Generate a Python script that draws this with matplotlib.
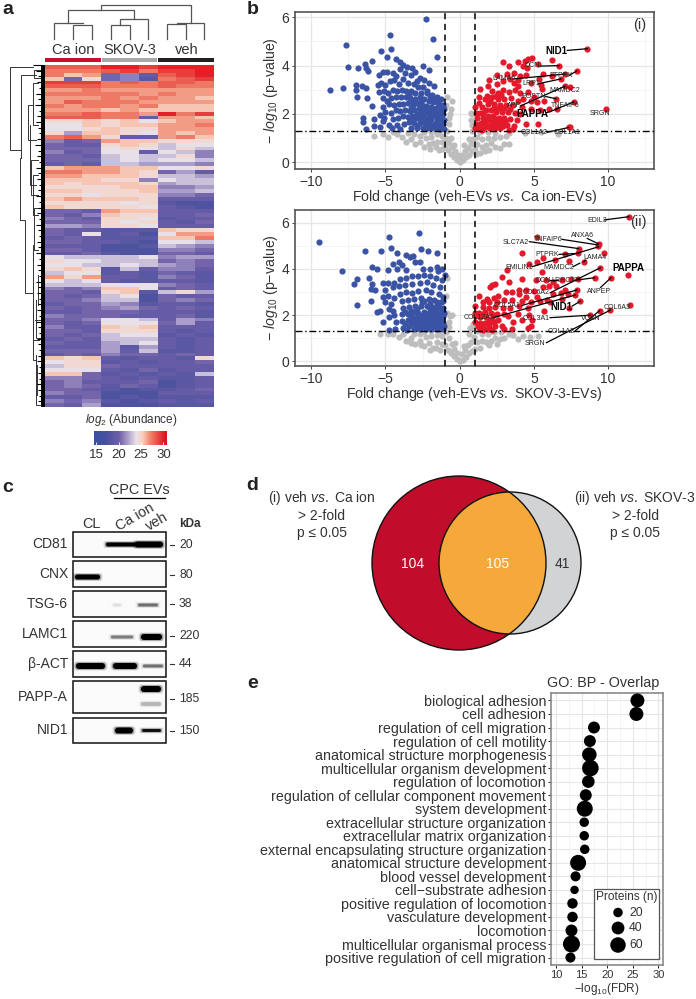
import numpy as np
import matplotlib
matplotlib.use("Agg")
import matplotlib.pyplot as plt
from matplotlib.colors import LinearSegmentedColormap
from matplotlib.patches import Circle, Rectangle, FancyBboxPatch

plt.rcParams['font.family'] = ['Liberation Sans', 'DejaVu Sans']
plt.rcParams['mathtext.fontset'] = 'custom'
plt.rcParams['mathtext.rm'] = 'Liberation Sans'
plt.rcParams['mathtext.it'] = 'Liberation Sans:italic'
plt.rcParams['mathtext.bf'] = 'Liberation Sans:bold'

W, H = 696, 999
TXT = '#333333'

# heatmap, read by eye, one row = 3 Ca ion, 3 SKOV-3, 3 veh
heat = [
 [28,28,28,30,30,29,30,30,30],
 [27,27,27,28,29,27,29,29,30],
 [27,25,26,19,20,18,28,29,30],
 [25,19,24,19,20,17,27,28,29],
 [29,29,29,27,28,27,28,28,27],
 [28,28,28,27,27,27,28,27,27],
 [26,26,27,26,26,26,26,26,26],
 [27,27,27,27,27,26,27,26,26],
 [26,26,26,27,26,27,26,26,25],
 [26,28,27,27,27,26,26,26,26],
 [27,26,27,27,26,27,25,25,25],
 [26,26,26,25,26,25,25,25,25],
 [27,27,28,27,27,26,30,27,29],
 [28,28,28,27,27,18,26,26,25],
 [24,24,25,24,25,23,25,26,26],
 [23,23,25,24,25,25,26,26,27],
 [23,23,24,25,24,24,26,26,26],
 [24,21,25,25,24,23,26,25,26],
 [27,28,26,24,18,18,26,27,25],
 [20,18,19,26,25,25,24,24,24],
 [19,18,18,24,25,24,22,23,23],
 [19,19,19,23,24,23,22,24,22],
 [20,18,19,23,23,18,23,22,20],
 [19,19,18,22,23,22,22,24,20],
 [19,19,19,22,23,22,23,23,22],
 [18,19,18,22,22,21,21,21,20],
 [25,26,26,26,25,25,23,23,24],
 [27,27,26,26,25,24,19,21,18],
 [26,26,25,25,25,24,22,22,21],
 [25,25,25,24,24,20,23,22,22],
 [25,24,25,25,25,24,21,22,22],
 [24,24,24,24,25,25,20,20,21],
 [25,25,24,24,24,25,21,21,22],
 [24,24,23,24,24,24,20,20,19],
 [25,26,25,25,25,24,18,18,18],
 [24,24,24,24,23,24,17,16,16],
 [25,24,24,24,24,23,18,17,16],
 [19,19,18,26,25,25,18,18,18],
 [19,18,20,25,24,24,18,18,19],
 [20,19,18,24,24,23,17,18,18],
 [19,19,19,24,23,24,18,17,19],
 [21,21,20,24,24,23,18,18,18],
 [19,18,18,17,17,17,25,24,24],
 [19,18,23,17,18,16,23,26,26],
 [18,19,18,17,17,17,25,25,27],
 [19,19,18,18,17,16,23,23,22],
 [18,18,18,16,16,17,22,21,20],
 [19,19,18,16,16,16,20,20,19],
 [18,18,19,17,16,16,19,19,18],
 [23,22,22,22,22,23,20,21,21],
 [24,23,23,22,22,22,19,20,19],
 [23,23,22,22,23,22,21,20,19],
 [24,25,24,17,22,18,20,20,18],
 [22,23,23,17,18,17,19,18,17],
 [26,24,26,18,18,17,20,19,17],
 [23,22,23,18,17,17,18,18,17],
 [22,22,22,23,23,23,20,19,18],
 [20,19,20,25,25,23,18,19,18],
 [19,19,18,24,25,17,22,24,21],
 [19,18,19,22,23,16,19,18,18],
 [19,19,20,22,22,16,19,20,19],
 [18,19,19,21,20,17,18,18,17],
 [19,18,19,20,21,19,18,19,18],
 [18,18,19,19,19,18,18,18,17],
 [20,19,19,19,18,18,18,19,17],
 [19,19,20,23,23,22,18,21,20],
 [19,18,19,23,23,23,19,21,18],
 [20,18,18,25,24,25,18,18,18],
 [19,19,18,24,24,24,18,17,18],
 [19,18,19,22,23,23,17,18,17],
 [18,19,18,22,22,22,18,17,18],
 [19,18,18,21,22,23,18,17,18],
 [18,18,18,21,17,21,18,17,18],
 [19,19,19,21,18,22,17,17,18],
 [18,19,18,20,19,19,18,19,18],
 [25,24,25,18,17,18,18,17,24],
 [23,24,24,17,18,17,18,18,19],
 [22,24,24,19,18,18,18,18,18],
 [23,23,23,18,17,19,17,18,18],
 [25,25,19,17,18,17,18,17,22],
 [20,20,19,18,17,18,17,17,18],
 [19,20,18,18,18,19,16,17,18],
 [19,20,19,17,19,18,16,17,18],
 [19,19,18,17,16,17,17,18,19],
 [20,19,19,16,16,16,18,18,18],
 [18,18,19,16,17,16,17,17,17],
 [20,19,20,17,16,17,18,17,18],
 [19,18,21,16,16,16,17,17,17],
]
heat_groups = ['Ca ion', 'SKOV-3', 'veh']
cbar_ticks = [15, 20, 25, 30]

# volcano (i) veh vs Ca ion
blue_i = [(-2.27,5.93),(-4.67,5.27),(-1.82,5.10),(-7.69,4.87),(-5.33,4.62),(-4.65,4.68),(-1.55,4.37),(-4.92,4.34),
 (-5.89,4.2),(-6.36,4.08),(-7.5,3.96),(-6.85,3.9),(-6.29,3.89),(-6.16,3.77),(-2.5,4.0),(-2.09,3.82),(-4.27,4.26),
 (-4.04,4.17),(-3.84,4.03),(-3.55,3.96),(-3.2,3.89),(-8.76,2.97),(-7.89,3.07),(-7.0,3.19),(-6.97,2.98),(-6.92,2.72),
 (-6.58,3.16),(-6.29,3.06),(-6.22,2.68),(-5.93,2.32),(-6.52,1.82),(-6.5,1.68),(-6.29,1.38),(-5.75,1.79),(-5.8,1.5),
 (-5.4,1.45),(-5.15,1.7),(-5.1,1.83),(-4.75,1.55),(-4.55,1.42),(-5.45,3.62),(-5.15,3.72),(-4.9,3.75),(-4.5,3.7),(-4.3,3.55),
 (-4.05,3.85),(-3.7,3.7),(-3.3,3.6),(-3.0,3.75),(-2.7,3.5),(-2.4,3.4),(-2.1,3.3),(-1.75,3.15),(-5.5,3.18),(-5.3,3.3),
 (-5.0,3.2),(-4.7,3.35),(-4.4,3.4),(-4.1,3.25),(-3.85,3.45),(-3.5,3.3),(-3.1,3.25),(-2.8,3.1),(-2.45,3.1),(-5.45,2.9),
 (-5.1,2.95),(-4.85,2.85),(-4.5,3.0),(-4.2,2.95),(-3.9,3.0),(-3.6,2.95),(-3.25,2.95),(-3.0,2.85),(-2.6,2.85),(-2.2,2.85),
 (-1.85,2.8),(-1.5,2.7),(-1.25,2.62),(-5.2,2.65),(-4.9,2.55),(-4.6,2.65),(-4.3,2.7),(-3.95,2.7),(-3.65,2.7),(-3.35,2.65),
 (-3.0,2.6),(-2.7,2.7),(-2.4,2.6),(-2.1,2.55),(-1.8,2.5),(-1.45,2.45),(-1.15,2.35),(-5.2,2.3),(-4.75,2.4),(-4.45,2.35),
 (-4.1,2.42),(-3.8,2.4),(-3.45,2.45),(-3.15,2.35),(-2.85,2.45),(-2.55,2.35),(-2.25,2.32),(-1.95,2.28),(-1.6,2.25),
 (-1.25,2.15),(-5.35,1.95),(-5.0,2.1),(-4.6,2.05),(-4.3,2.15),(-4.0,2.12),(-3.7,2.15),(-3.35,2.12),(-3.05,2.15),(-2.7,2.1),
 (-2.35,2.1),(-2.05,2.05),(-1.75,2.05),(-1.4,2.0),(-1.1,2.0),(-4.5,1.8),(-4.15,1.85),(-3.85,1.9),(-3.5,1.88),(-3.2,1.9),
 (-2.9,1.85),(-2.55,1.87),(-2.2,1.85),(-1.9,1.8),(-1.55,1.82),(-1.2,1.78),(-4.2,1.55),(-3.75,1.6),(-3.4,1.65),(-3.05,1.62),
 (-2.7,1.62),(-2.4,1.65),(-2.05,1.6),(-1.75,1.6),(-1.4,1.6),(-1.1,1.58),(-4.0,1.38),(-3.3,1.4),(-2.85,1.4),(-2.5,1.42),
 (-2.2,1.4),(-1.9,1.4),(-1.6,1.4),(-1.3,1.38),(-1.05,1.38),(-3.4,2.8),(-2.9,3.35),(-2.2,2.95),(-2.5,2.25),(-1.6,2.05),
 (-1.3,1.9),(-2.15,1.72),(-1.55,1.7),(-1.25,1.5),(-1.75,1.5),(-2.3,1.52),(-2.9,1.52),(-1.08,1.75),(-1.08,2.2),
 (-2.0,2.7),(-2.6,2.55),(-3.2,2.5),(-1.65,2.6),(-1.3,2.35),(-2.15,2.2),(-1.85,2.15),(-2.75,2.25),(-3.3,2.25),(-2.45,1.97),
 (-2.9,2.0),(-1.95,1.95),(-1.6,1.93),(-1.2,1.65),(-2.6,1.75),(-3.2,1.75),(-2.0,1.5),(-1.5,1.5)]
red_i = [(8.6,4.7),(6.72,4.0),(7.9,3.78),(7.1,3.65),(6.83,3.45),(7.1,3.15),(7.45,3.13),(6.5,2.63),(7.7,2.5),(6.56,2.2),
 (9.87,2.2),(7.35,1.44),(7.46,1.44),(6.25,4.22),(5.3,4.07),(4.9,4.33),(4.6,4.28),(4.4,4.2),(3.95,4.17),(4.3,4.0),(2.9,4.13),
 (3.3,4.0),(4.55,3.9),(5.6,3.65),(6.2,3.55),(5.35,3.45),(5.5,3.2),(5.55,3.05),(4.8,3.3),(3.2,3.65),(2.55,3.6),(2.0,3.4),
 (3.65,3.7),(4.05,3.55),(4.5,3.6),(3.95,3.4),(3.65,3.3),(3.9,3.15),(3.75,3.0),(4.05,2.85),(3.4,3.45),(2.9,3.35),(2.5,3.25),
 (1.9,3.15),(1.4,3.05),(1.85,2.75),(2.2,2.95),(2.6,2.85),(2.95,3.0),(3.3,2.9),(4.6,2.9),(5.0,2.72),(5.7,2.55),(5.2,2.5),
 (4.8,2.55),(4.3,2.6),(3.9,2.55),(3.45,2.65),(3.0,2.6),(2.6,2.6),(2.2,2.7),(1.7,2.6),(1.3,2.45),(1.05,2.3),(1.5,2.3),
 (1.9,2.4),(2.3,2.4),(2.75,2.35),(3.15,2.35),(3.6,2.35),(4.2,2.3),(4.8,2.2),(5.4,2.15),(6.0,2.2),(1.1,2.05),(1.4,2.05),
 (1.75,2.15),(2.1,2.15),(2.45,2.1),(2.85,2.1),(3.25,2.1),(3.7,2.05),(4.1,2.0),(1.2,1.82),(1.55,1.85),(1.9,1.9),(2.25,1.9),
 (2.65,1.85),(3.0,1.85),(3.4,1.8),(3.85,1.75),(1.1,1.6),(1.45,1.62),(1.8,1.65),(2.15,1.65),(2.5,1.65),(2.85,1.6),(3.2,1.55),
 (3.65,1.5),(1.05,1.42),(1.35,1.4),(1.7,1.45),(2.05,1.42),(2.4,1.42),(2.75,1.4),(3.3,1.35),(3.6,1.38),(1.5,1.32),(4.45,1.58),
 (5.3,1.6),(2.05,2.55),(2.45,2.75),(2.8,2.8),(1.3,2.7),(1.6,2.05),(1.25,1.45),(1.65,1.75),(2.0,1.78),(2.35,1.78),(2.7,1.75),
 (3.05,1.7),(2.3,2.25),(2.65,2.25),(3.0,2.25),(3.4,2.2),(1.55,1.5),(1.9,1.52),(2.25,1.52),(2.6,1.52),(2.95,1.48)]
grey_i = [(0,0.03),(0.2,0.1),(-0.2,0.1),(0.4,0.2),(-0.4,0.22),(0.6,0.32),(-0.6,0.35),(0.8,0.45),(-0.8,0.5),(1.0,0.55),(-1.0,0.62),
 (0.05,0.18),(-0.1,0.28),(0.15,0.3),(-0.3,0.45),(0.35,0.45),(-0.5,0.62),(0.55,0.6),(-0.7,0.8),(0.75,0.75),(-0.9,1.0),(0.9,0.95),
 (-1.2,0.85),(1.2,0.75),(-1.5,0.85),(1.5,0.65),(-1.8,0.8),(1.8,0.7),(-2.1,0.75),(2.1,0.8),(-2.4,0.65),(2.4,0.65),(-2.7,0.85),
 (2.7,0.6),(-3.0,0.75),(3.0,0.75),(-3.3,0.95),(3.3,0.75),(-3.6,0.85),(-3.9,1.05),(-4.2,1.15),(-4.5,1.25),(-5.2,1.15),(-5.8,1.1),
 (-1.2,1.1),(1.2,1.05),(-1.5,1.15),(1.5,0.95),(-1.9,1.05),(1.9,1.0),(-2.3,1.0),(2.3,1.0),(-2.7,1.1),(2.7,1.05),(-3.1,1.15),
 (3.1,1.1),(-3.5,1.2),(-1.4,1.25),(1.35,1.25),(-1.9,1.25),(1.9,1.25),(-2.4,1.25),(2.4,1.22),(3.3,1.22),(-0.6,1.0),(0.6,0.95),
 (-0.35,0.7),(0.3,0.7),(-0.85,1.3),(0.85,1.3),(-0.75,1.6),(0.8,1.55),(-0.7,1.85),(0.75,1.75),(-0.65,2.0),(0.75,2.05),(-0.6,2.2),
 (0.85,2.0),(-0.55,2.55),(-0.9,2.35),(-0.85,2.7),(6.6,1.15),(4.4,1.2),(5.5,1.25),(-4.8,1.05),(-1.6,0.65),(-2.0,0.55),(-0.95,0.8),
 (1.1,0.35),(1.4,0.4),(-1.2,0.55),(1.7,0.45),(2.0,0.5),(-1.4,0.5)]
labels_i = [('NID1',6.49,4.6,True,(7.25,4.63),(8.6,4.7)),('DCN',4.9,3.99,False,(5.45,3.98),(6.72,4.0)),
 ('PTPRK',6.83,3.6,False,(7.4,3.6),(7.9,3.78)),('LAMA5',2.97,3.45,False,(3.65,3.45),(7.1,3.65)),
 ('LRP1',4.8,3.27,False,(5.3,3.25),(6.83,3.45)),('MAMDC2',7.1,2.95,False,None,None),
 ('APP',3.64,2.33,False,(4.1,2.33),(7.1,3.15)),('POSTN',5.0,2.72,False,(5.8,2.72),(6.5,2.63)),
 ('TNFAIP6',7.1,2.33,False,(6.5,2.2),(7.7,2.5)),('PAPPA',4.87,2.0,True,(5.85,2.05),(6.56,2.2)),
 ('SRGN',9.44,2.03,False,None,None),('COL1A2',5.0,1.23,False,(5.9,1.24),(7.35,1.44)),('COL1A1',7.24,1.23,False,None,None)]

# volcano (ii) veh vs SKOV-3
blue_ii = [(-9.45,5.15),(-4.75,5.38),(-2.75,5.55),(-6.35,4.78),(-5.3,4.77),(-4.6,4.9),(-2.6,4.88),(-2.15,4.77),(-1.55,4.68),
 (-4.2,4.68),(-3.6,4.62),(-3.35,4.5),(-3.15,4.55),(-7.95,3.9),(-5.9,4.1),(-5.6,4.0),(-4.5,4.2),(-4.1,4.3),(-3.9,4.15),(-3.0,4.3),
 (-2.7,4.3),(-1.55,4.1),(-1.2,4.0),(-1.0,3.75),(-1.45,3.9),(-2.0,4.0),(-2.5,4.0),(-3.6,3.95),(-4.2,4.0),(-4.8,3.95),(-6.9,3.55),
 (-7.1,3.35),(-6.1,3.6),(-5.9,3.35),(-5.95,3.15),(-6.0,2.6),(-5.7,3.1),(-6.9,2.45),(-5.2,3.4),(-4.8,3.4),(-4.4,3.4),(-4.0,3.55),
 (-3.6,3.6),(-3.2,3.7),(-2.8,3.7),(-2.4,3.75),(-2.0,3.7),(-1.6,3.6),(-1.2,3.5),(-5.0,3.1),(-4.5,3.2),(-4.1,3.25),(-3.7,3.3),
 (-3.2,3.35),(-2.7,3.4),(-2.2,3.45),(-1.8,3.3),(-1.3,3.2),(-5.2,2.78),(-4.8,2.85),(-4.4,2.75),(-4.0,2.9),(-3.6,3.0),(-3.2,2.95),
 (-2.8,3.05),(-2.3,3.1),(-1.9,3.0),(-1.4,2.9),(-1.1,2.8),(-5.05,2.55),(-4.6,2.5),(-3.9,2.6),(-3.5,2.65),(-3.1,2.7),(-2.6,2.75),
 (-2.1,2.7),(-1.7,2.65),(-1.25,2.55),(-5.6,2.15),(-5.4,2.2),(-4.75,2.25),(-4.5,2.2),(-4.4,2.0),(-3.85,2.3),(-3.4,2.35),(-3.0,2.4),
 (-2.6,2.4),(-2.2,2.4),(-1.85,2.35),(-1.4,2.35),(-1.1,2.3),(-5.2,1.7),(-4.75,1.9),(-4.3,1.7),(-3.9,2.05),(-3.5,2.05),(-3.15,2.12),
 (-2.8,2.1),(-2.4,2.15),(-2.05,2.1),(-1.65,2.1),(-1.25,2.05),(-1.05,2.1),(-4.75,1.35),(-4.35,1.4),(-3.9,1.75),(-3.5,1.8),(-3.1,1.85),
 (-2.7,1.85),(-2.35,1.9),(-2.0,1.85),(-1.6,1.85),(-1.2,1.85),(-3.85,1.45),(-3.4,1.55),(-3.05,1.6),(-2.65,1.6),(-2.25,1.65),(-1.85,1.65),
 (-1.45,1.65),(-1.1,1.65),(-3.55,1.35),(-3.1,1.38),(-2.7,1.4),(-2.3,1.4),(-1.9,1.42),(-1.5,1.42),(-1.1,1.4),(-3.25,2.2),(-2.55,2.55),
 (-1.55,2.55),(-3.3,1.95),(-2.9,1.95),(-2.5,2.0),(-2.15,1.98),(-1.8,1.98),(-1.4,1.98),(-1.1,1.95),(-2.5,1.75),(-2.1,1.75),(-1.7,1.75),
 (-1.3,1.75),(-2.85,1.5),(-2.45,1.52),(-2.05,1.52),(-1.65,1.52),(-1.25,1.52),(-1.05,1.55),(-2.0,2.25),(-1.6,2.25),(-1.2,2.2),
 (-2.4,2.6),(-2.0,2.5),(-1.5,2.45),(-1.15,2.6),(-2.9,2.25),(-3.7,2.15),(-3.7,1.6),(-3.3,1.72),(-2.9,1.72),(-1.35,2.1),(-1.75,2.2)]
red_ii = [(11.4,6.26),(9.37,5.08),(9.3,5.0),(8.02,4.88),(7.96,4.67),(8.36,4.31),(9.75,4.7),(5.2,5.4),(4.2,4.7),(7.1,4.63),(5.6,4.48),
 (6.4,4.4),(7.4,4.35),(5.2,4.28),(4.65,4.2),(3.2,3.95),(5.55,3.85),(9.48,4.05),(11.33,3.75),(10.2,3.62),(9.1,3.62),(8.0,3.58),
 (7.5,3.58),(6.9,3.5),(6.3,3.45),(5.8,3.5),(5.15,3.5),(4.2,3.55),(2.85,3.65),(3.3,3.45),(2.35,3.35),(2.2,3.3),(2.05,3.2),(4.0,3.1),
 (4.5,3.1),(5.0,3.05),(5.6,3.2),(6.0,3.25),(6.5,3.25),(7.1,3.1),(7.9,3.09),(7.8,2.87),(7.3,2.9),(6.8,2.95),(6.3,2.9),(5.9,2.65),
 (5.2,2.8),(4.5,2.8),(4.0,2.9),(3.5,3.0),(3.1,3.0),(2.6,2.85),(2.3,2.75),(1.3,2.85),(1.85,2.7),(2.0,2.55),(2.5,2.55),(3.0,2.65),
 (3.5,2.65),(4.2,2.6),(4.8,2.55),(5.4,2.6),(6.1,2.55),(6.9,2.7),(8.13,2.6),(11.46,2.45),(10.16,2.22),(9.44,2.2),(8.8,2.0),(7.4,2.3),
 (5.7,2.2),(4.6,2.3),(4.0,2.4),(3.4,2.3),(2.9,2.3),(2.4,2.35),(1.95,2.3),(1.55,2.35),(1.0,2.4),(1.3,2.1),(1.7,2.15),(2.1,2.1),(2.5,2.05),
 (3.0,2.05),(3.9,2.05),(4.7,2.0),(3.25,1.95),(1.05,1.95),(1.4,1.9),(1.75,1.9),(2.15,1.85),(2.6,1.8),(3.6,1.7),(4.2,1.8),(4.9,1.8),(1.05,1.7),
 (1.35,1.65),(1.7,1.65),(2.0,1.6),(2.4,1.55),(2.85,1.55),(4.8,1.55),(4.6,1.45),(1.35,1.4),(1.6,1.35),(1.9,1.38),(2.2,1.35),(3.0,1.4),(3.5,1.38),
 (1.55,2.05),(1.95,1.75),(2.3,1.7),(1.25,1.55),(1.6,1.5),(1.95,1.5),(1.0,2.1),(1.6,2.55),(2.25,2.0)]
grey_ii = [(0,0.03),(0.2,0.08),(-0.2,0.1),(0.4,0.2),(-0.4,0.25),(0.6,0.35),(-0.6,0.35),(0.8,0.45),(-0.8,0.5),(0.15,0.3),(-0.15,0.35),
 (0.35,0.5),(-0.35,0.55),(0.55,0.7),(-0.55,0.75),(0.75,0.85),(-0.75,1.0),(0.95,1.05),(-0.95,1.25),(-1.2,0.75),(1.2,0.85),(-1.5,0.85),
 (1.5,0.9),(-1.8,0.6),(1.8,0.85),(-2.1,0.8),(2.1,0.9),(-2.4,0.65),(2.4,1.0),(-2.7,0.9),(2.7,0.95),(-3.0,0.75),(-3.3,1.0),(-3.6,0.9),
 (-3.3,0.8),(-3.8,1.2),(-4.1,1.05),(-4.5,1.2),(-4.8,1.18),(-5.4,1.18),(-1.2,1.1),(1.2,1.3),(-1.5,1.15),(1.5,1.2),(-1.9,1.1),(1.9,1.2),
 (-2.3,1.05),(2.3,1.25),(-2.7,1.2),(2.8,1.25),(-3.1,1.2),(3.3,1.2),(3.6,1.15),(3.9,0.95),(4.3,1.1),(4.75,1.05),(5.3,1.1),(-1.4,1.28),
 (-1.9,1.3),(-2.4,1.28),(0.7,1.45),(0.9,1.6),(-0.7,1.5),(-0.75,1.7),(-0.65,1.95),(-0.85,2.1),(-0.55,2.0),(-0.9,2.85),(-0.85,3.6),(0.6,1.2),
 (-1.0,0.7),(1.05,0.55),(-1.3,0.5),(1.4,0.6),(-1.6,0.6),(-2.0,0.5),(-2.6,0.7),(2.0,0.7),(2.5,0.75),(3.0,1.0),(0.3,0.65),(-0.3,0.8),(1.0,1.4)]
labels_ii = [('EDIL3',9.26,6.1,False,(9.75,6.12),(11.4,6.26)),('ANXA6',8.29,5.45,False,(8.6,5.32),(9.37,5.08)),
 ('TNFAIP6',6.0,5.27,False,(6.9,5.28),(9.3,5.04)),('SLC7A2',3.75,5.15,False,(4.7,5.18),(8.02,4.88)),
 ('PTPRK',5.93,4.63,False,(6.7,4.63),(7.96,4.67)),('LAMA4',9.12,4.49,False,(8.5,4.38),(8.36,4.31)),
 ('EMILIN1',3.98,4.05,False,(4.9,4.1),(9.37,4.96)),('MAMDC2',6.67,4.05,False,(7.65,4.1),(8.1,4.25)),
 ('PAPPA',11.35,4.05,True,None,None),('DCN',5.62,3.52,False,(6.1,3.52),(6.6,3.52)),
 ('LRRC17',7.08,3.5,False,(7.9,3.52),(9.1,3.62)),('COL6A2',5.17,2.96,False,(6.1,2.97),(9.48,4.05)),
 ('ANPEP',9.37,3.02,False,(9.5,3.2),(10.2,3.62)),('COL5A1',3.19,2.42,False,(4.2,2.42),(7.9,3.09)),
 ('COL6A3',10.6,2.35,False,None,None),('NID1',6.83,2.37,True,(7.6,2.4),(8.13,2.6)),
 ('COL12A1',1.28,1.88,False,(2.3,1.9),(7.8,2.87)),('COL3A1',5.15,1.86,False,(6.1,1.89),(8.8,2.0)),
 ('VCAN',8.85,1.85,False,None,None),('COL1A2',6.85,1.31,False,(7.8,1.33),(9.44,2.2)),
 ('SRGN',5.08,0.79,False,(5.85,0.81),(10.16,2.22))]

# panel c
blot_rows = ['CD81', 'CNX', 'TSG-6', 'LAMC1', 'β-ACT', 'PAPP-A', 'NID1']
blot_kda = ['20', '80', '38', '220', '44', '185', '150']
# band per blot: row, x0, x1, thickness, darkness (x in px)
blot_bands = [(0,106,137,4,1),(0,135,163,6,1),(1,75,100,5,1),(2,113,121,3,0.08),(2,138,158,3,0.45),
 (3,111,133,3,0.4),(3,141,162,6,1),(4,76,105,6,1),(4,113,137,6,1),(4,143,163,3,0.45),
 (5,141,161,6,1),(5,141,161,4,0.2),(6,115,133,6,1),(6,142,161,3,0.9)]
band_offset = [0, 3, 1, 3, 2, -8, 0]

# panel d
venn_counts = [104, 105, 41]

# panel e
go_terms = ['biological adhesion', 'cell adhesion', 'regulation of cell migration', 'regulation of cell motility',
 'anatomical structure morphogenesis', 'multicellular organism development', 'regulation of locomotion',
 'regulation of cellular component movement', 'system development', 'extracellular structure organization',
 'extracellular matrix organization', 'external encapsulating structure organization',
 'anatomical structure development', 'blood vessel development', 'cell\u2212substrate adhesion',
 'positive regulation of locomotion', 'vasculature development', 'locomotion',
 'multicellular organismal process', 'positive regulation of cell migration']
go_fdr = [25.9, 25.7, 17.4, 16.6, 16.5, 16.7, 16.3, 15.8, 15.6, 15.5, 15.5, 15.6, 14.3, 13.8, 13.6, 13.2, 13.2, 13.0, 13.0, 12.8]
go_n = [48, 48, 34, 34, 52, 69, 38, 34, 64, 20, 20, 20, 64, 23, 15, 25, 25, 34, 73, 23]
legend_n = [20, 40, 60]


def axes_px(fig, x0, y0, x1, y1, **kw):
    return fig.add_axes([x0 / W, 1 - y1 / H, (x1 - x0) / W, (y1 - y0) / H], **kw)


def size_from_n(n):
    d = np.sqrt(15 + 3.75 * np.asarray(n, dtype=float))
    return (d * 0.72) ** 2


def volcano(ax, blue, red, grey, labels, ylim, xlabel, tag, tag_y):
    for pts, col, z in [(grey, '#bdbdbd', 2), (blue, '#3a53a4', 3), (red, '#e41a2c', 4)]:
        p = np.array(pts)
        ax.scatter(p[:, 0], p[:, 1], s=20, color=col, linewidths=0, zorder=z)
    ax.set_xlim(-11.1, 13.1)
    ax.set_ylim(*ylim)
    ax.set_xticks([-10, -5, 0, 5, 10])
    ax.set_xticklabels(['\u221210', '\u22125', '0', '5', '10'])
    ax.set_yticks([0, 2, 4, 6])
    ax.set_xticks([-7.5, -2.5, 2.5, 7.5, 12.5], minor=True)
    ax.set_yticks([1, 3, 5], minor=True)
    ax.grid(True, which='major', color='#e6e6e6', lw=0.9, zorder=0)
    ax.grid(True, which='minor', color='#f0f0f0', lw=0.5, zorder=0)
    ax.set_axisbelow(True)
    ax.tick_params(which='minor', length=0)
    ax.tick_params(which='major', length=2.5, width=0.7, color='#444444', labelcolor=TXT, labelsize=10, pad=1.5)
    for s in ax.spines.values():
        s.set_color('#555555')
        s.set_linewidth(1.2)
    ax.axvline(-1, color='black', ls=(0, (4, 3)), lw=1.1, zorder=5)
    ax.axvline(1, color='black', ls=(0, (4, 3)), lw=1.1, zorder=5)
    ax.axhline(1.3, color='black', ls=(0, (5, 2, 1, 2)), lw=1.0, zorder=5)
    for name, tx, ty, bold, l0, l1 in labels:
        if l0 is not None:
            ax.plot([l0[0], l1[0]], [l0[1], l1[1]], color='black', lw=0.9, zorder=6)
        ax.text(tx, ty, name, ha='center', va='center', zorder=7,
                fontsize=7 if bold else 5, fontweight='bold' if bold else 'normal',
                color='black' if bold else '#222222')
    ax.text(12.6, tag_y, tag, ha='right', va='center', fontsize=10.5, color=TXT)
    ax.set_xlabel(xlabel, fontsize=10.2, color=TXT, labelpad=-0.5)
    ax.set_ylabel('\u2212 $\\mathit{log}_{\\mathit{10}}$ (p\u2212value)', fontsize=10.2, color=TXT, labelpad=1)


fig = plt.figure(figsize=(W / 100, H / 100), dpi=100)

# a: heatmap
cmap = LinearSegmentedColormap.from_list('abund', [(0.0, '#3a50a2'), (0.15, '#46509f'), (0.35, '#6f5fa8'),
                                                   (0.47, '#a99ec9'), (0.59, '#ebe4ea'), (0.68, '#f8cfc0'),
                                                   (0.78, '#f08a70'), (1.0, '#e3101f')])
ax_h = axes_px(fig, 45, 65, 214, 407)
# low end of the typed values reads a little dark, so the matrix gets a lower vmin than the bar
ax_h.imshow(np.array(heat), aspect='auto', cmap=cmap, vmin=12.5, vmax=30.5, interpolation='nearest')
ax_h.set_axis_off()

ax_c = axes_px(fig, 94, 431, 167, 445)
grad = np.linspace(14.5, 30.8, 200)[None, :]
ax_c.imshow(grad, aspect='auto', cmap=cmap, vmin=14.5, vmax=30.5, extent=[14.5, 30.8, 0, 1])
ax_c.set_xticks(cbar_ticks)
ax_c.set_yticks([])
ax_c.tick_params(axis='x', direction='in', colors='white', length=2.5, width=0.6, labelcolor=TXT, labelsize=9.5, pad=3)
for s in ax_c.spines.values():
    s.set_visible(False)

# b: volcanoes
ax_v1 = axes_px(fig, 295, 12, 654, 169)
volcano(ax_v1, blue_i, red_i, grey_i, labels_i, (-0.28, 6.22),
        'Fold change (veh-EVs $\\mathit{vs.}$ Ca ion-EVs)', '(i)', 5.7)
ax_v2 = axes_px(fig, 295, 210, 654, 366)
volcano(ax_v2, blue_ii, red_ii, grey_ii, labels_ii, (-0.2, 6.55),
        'Fold change (veh-EVs $\\mathit{vs.}$ SKOV-3-EVs)', '(ii)', 6.03)

# e: dotplot
ax_e = axes_px(fig, 551, 693, 663, 965)
ypos = np.arange(len(go_terms))
ax_e.scatter(go_fdr, ypos, s=size_from_n(go_n), color='black', linewidths=0, zorder=3)
ax_e.set_ylim(len(go_terms) - 0.45, -0.55)
ax_e.set_xlim(9.0, 30.9)
ax_e.set_xticks([10, 15, 20, 25, 30])
ax_e.set_xticks([12.5, 17.5, 22.5, 27.5], minor=True)
ax_e.set_yticks(ypos)
ax_e.set_yticklabels(go_terms)
ax_e.grid(True, which='major', color='#e6e6e6', lw=0.8, zorder=0)
ax_e.grid(True, which='minor', axis='x', color='#f0f0f0', lw=0.5, zorder=0)
ax_e.tick_params(which='minor', length=0)
ax_e.tick_params(axis='y', length=2, width=0.6, labelsize=10.3, labelcolor=TXT, pad=1.5)
ax_e.tick_params(axis='x', length=2, width=0.6, labelsize=8, labelcolor=TXT, pad=1.5)
for s in ax_e.spines.values():
    s.set_color('#8a8a8a')
    s.set_linewidth(1.2)
ax_e.set_xlabel('\u2212log$_{10}$(FDR)', fontsize=8.5, color=TXT, labelpad=1)
ax_e.set_axisbelow(True)

# overlay in picture pixels for the annotations
ov = fig.add_axes([0, 0, 1, 1], zorder=10)
ov.set_xlim(0, W)
ov.set_ylim(H, 0)
ov.set_axis_off()
ov.patch.set_alpha(0)

for letter, x, y in [('a', 2, 10), ('b', 247, 10), ('c', 2, 488), ('d', 246, 486), ('e', 247, 684)]:
    ov.text(x, y, letter, fontsize=14, fontweight='bold', color='#222222', ha='left', va='center')

# top dendrogram
top_dendro = [[(54, 39), (54, 23), (83, 23)], [(73, 39), (73, 25), (92, 25), (92, 39)], [(111, 39), (111, 25), (130, 25), (130, 39)],
              [(120, 25), (120, 19), (148, 19), (148, 39)], [(68, 23), (68, 10), (134, 10), (134, 19)],
              [(101, 10), (101, 5), (191, 5), (191, 23)], [(167, 39), (167, 24), (186, 24), (186, 39)],
              [(177, 24), (177, 23), (204, 23), (204, 39)]]
for seg in top_dendro:
    s = np.array(seg)
    ov.plot(s[:, 0], s[:, 1], color='#555555', lw=0.9, solid_joinstyle='miter')
for name, cx in zip(heat_groups, [73, 130, 187]):
    ov.text(cx, 50, name, fontsize=10.5, color=TXT, ha='center', va='center')
for x0, x1, col in [(45, 101, '#c8102e'), (102, 157, '#a9a9a9'), (158, 214, '#231f20')]:
    ov.add_patch(Rectangle((x0, 58), x1 - x0, 4, color=col, lw=0))

# left dendrogram
left_dendro = [[(33, 67), (10, 67), (10, 150), (21, 150)], [(36, 75), (21, 75), (21, 158)], [(21, 158), (20, 158), (20, 220)],
               [(20, 220), (25, 220), (25, 293), (33, 293)], [(38, 83), (33, 83), (33, 125), (38, 125)],
               [(33, 105), (28, 105), (28, 140), (36, 140)], [(40, 70), (34, 70), (34, 78), (40, 78)],
               [(30, 125), (30, 185), (36, 185)], [(38, 160), (31, 160), (31, 195), (38, 195)],
               [(38, 175), (33, 175), (33, 215), (38, 215)], [(38, 208), (34, 208), (34, 250), (38, 250)],
               [(33, 245), (33, 340), (39, 340)], [(36, 300), (36, 338), (40, 338)], [(33, 305), (33, 360), (36, 360)],
               [(36, 355), (36, 405), (41, 405)], [(35, 320), (40, 320)], [(38, 275), (38, 305)], [(37, 365), (37, 395)]]
for seg in left_dendro:
    s = np.array(seg)
    ov.plot(s[:, 0], s[:, 1], color='#333333', lw=0.7, solid_joinstyle='miter')
ov.add_patch(Rectangle((41, 65), 3.6, 342, color='black', lw=0))
leaf_x = [33, 36, 38, 37, 39, 36, 38, 35, 39, 37, 36, 38, 39, 37, 35, 38, 37, 39, 36, 38, 37, 39, 38, 36, 39, 38, 37, 39, 36, 38,
          39, 37, 38, 36, 39, 37, 38, 39, 36, 38, 37, 39, 38, 37, 39, 36, 38, 39, 37, 38, 39, 38, 37, 39, 38, 39, 37, 38, 39, 38]
leaf_y = 65 + np.arange(len(leaf_x)) * (342 / len(leaf_x))
ov.hlines(leaf_y, leaf_x, 42, color='black', lw=0.8)

ov.text(131, 420, '$\\mathit{log}_{\\mathit{2}}$ (Abundance)', fontsize=8.5, color=TXT, ha='center', va='center')

# c: blots
blot_y = [(532, 557), (561, 587), (591, 617), (621, 647), (651, 677), (681, 713), (718, 743)]
kda_y = [545, 575, 604, 636, 664, 699, 731]
for i, (name, (y0, y1)) in enumerate(zip(blot_rows, blot_y)):
    ov.add_patch(Rectangle((73, y0), 93, y1 - y0, facecolor='#fbfbfb', edgecolor='#111111', lw=1.1, zorder=2))
    ov.text(68, (y0 + y1) / 2, name, fontsize=10, color=TXT, ha='right', va='center')
    ov.plot([170, 174], [kda_y[i], kda_y[i]], color=TXT, lw=0.8)
    ov.text(179, kda_y[i], blot_kda[i], fontsize=8.8, color=TXT, ha='left', va='center')
seen = {}
for row, x0, x1, t, dark in blot_bands:
    y0, y1 = blot_y[row]
    yc = (y0 + y1) / 2 + band_offset[row]
    seen[(row, x0)] = seen.get((row, x0), 0) + 1
    if seen[(row, x0)] == 2:
        yc += 15
    for grow, a in [(2.5, 0.12), (1.2, 0.3), (0, 1.0)]:
        ov.add_patch(FancyBboxPatch((x0 - grow, yc - t / 2 - grow * 0.6), x1 - x0 + 2 * grow, t + 1.2 * grow,
                                    boxstyle='round,pad=0,rounding_size=%.1f' % (t / 2), facecolor='black',
                                    edgecolor='none', alpha=a * dark, zorder=3))
ov.text(91, 524, 'CL', fontsize=10.4, color=TXT, ha='center', va='center')
ov.text(135, 517, 'Ca ion', fontsize=10.4, color=TXT, ha='center', va='center', rotation=30)
ov.text(157, 522, 'veh', fontsize=10.4, color=TXT, ha='center', va='center', rotation=30)
ov.text(139, 490, 'CPC EVs', fontsize=10.4, color=TXT, ha='center', va='center')
ov.plot([114, 165], [498, 498], color='black', lw=0.9)
ov.text(190, 524, 'kDa', fontsize=8.5, fontweight='bold', color=TXT, ha='center', va='center')

# d: venn
big = Circle((459, 563), 87, facecolor='#c00d2b', edgecolor='none', zorder=2)
small = Circle((510, 563), 71, facecolor='#d1d3d4', edgecolor='none', zorder=1)
ov.add_patch(small)
ov.add_patch(big)
inter = Circle((510, 563), 71, facecolor='#f5a93a', edgecolor='none', zorder=3)
ov.add_patch(inter)
inter.set_clip_path(Circle((459, 563), 87, transform=ov.transData))
ov.add_patch(Circle((459, 563), 87, facecolor='none', edgecolor='#111111', lw=1.0, zorder=4))
ov.add_patch(Circle((510, 563), 71, facecolor='none', edgecolor='#111111', lw=1.0, zorder=4))
for val, x, col in zip(venn_counts, [413, 498, 562], ['white', 'white', TXT]):
    ov.text(x, 564, str(val), fontsize=10, color=col, ha='center', va='center', zorder=5)
for cx, first in [(322, '(i) veh $\\mathit{vs.}$ Ca ion'), (635, '(ii) veh $\\mathit{vs.}$ SKOV-3')]:
    ov.text(cx, 498, first, fontsize=10, color=TXT, ha='center', va='center')
    ov.text(cx, 516, '> 2-fold', fontsize=10, color=TXT, ha='center', va='center')
    ov.text(cx, 533, 'p \u2264 0.05', fontsize=10, color=TXT, ha='center', va='center')

# e: title and size legend
ov.text(603, 683, 'GO: BP - Overlap', fontsize=10.4, color=TXT, ha='center', va='center')
ov.add_patch(Rectangle((594, 889), 65, 70, facecolor='white', edgecolor='#555555', lw=0.9, zorder=2))
ov.text(627, 897, 'Proteins (n)', fontsize=8.6, color=TXT, ha='center', va='center', zorder=3)
ov.scatter([618] * 3, [912.5, 928, 945], s=size_from_n(legend_n), color='black', linewidths=0, zorder=3)
for n, y in zip(legend_n, [912.5, 928, 945]):
    ov.text(629, y, str(n), fontsize=8.8, color=TXT, ha='left', va='center', zorder=3)

fig.savefig('out.png', dpi=100)
